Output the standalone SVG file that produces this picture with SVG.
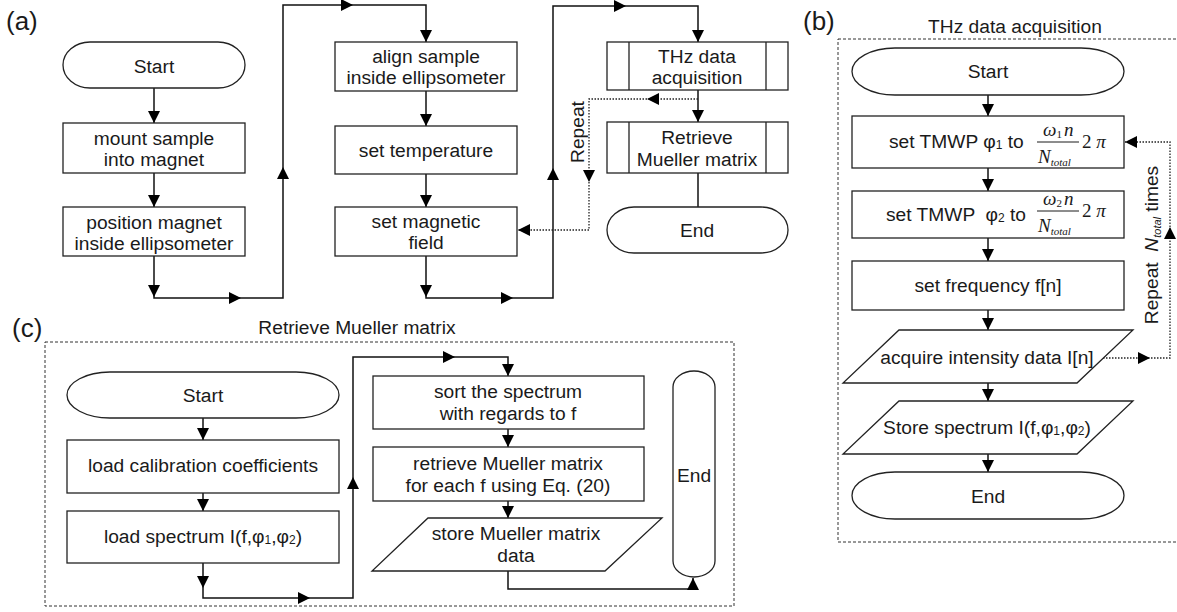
<svg xmlns="http://www.w3.org/2000/svg" xmlns:xlink="http://www.w3.org/1999/xlink" width="1177" height="612" viewBox="0 0 1177 612">
<style>
.nd{fill:#fff;stroke:#222;stroke-width:1.3}
.t{font-family:"Liberation Sans",Arial,sans-serif;font-size:19.2px;fill:#1a1a1a;text-anchor:middle}
.ts{font-family:"Liberation Sans",Arial,sans-serif;font-size:19.2px;fill:#1a1a1a;text-anchor:start}
.lab{font-family:"Liberation Sans",Arial,sans-serif;font-size:26px;fill:#1a1a1a}
.m{font-family:"Liberation Serif","Times New Roman",serif;font-style:italic;font-size:19px;fill:#1a1a1a}
.ln{fill:none;stroke:#111;stroke-width:1.5}
.dot{fill:none;stroke:#222;stroke-width:1.3;stroke-dasharray:1.5 1.5}
.frm{fill:none;stroke:#333;stroke-width:1;stroke-dasharray:3 2}
.ah{fill:#000}
</style>
<defs>
<path id="ah" d="M0,0 L-12,-6 L-12,6 Z"/>
</defs>
<rect width="1177" height="612" fill="#fff"/>

<!-- panel labels and frames -->
<g id="labels">
<text class="lab" x="6" y="30">(a)</text>
<text class="lab" x="803" y="30">(b)</text>
<text class="lab" x="12" y="337">(c)</text>
<text class="t" x="1015" y="33">THz data acquisition</text>
<text class="t" x="357" y="334">Retrieve Mueller matrix</text>
<rect class="frm" x="838" y="39" width="400" height="503"/>
<rect class="frm" x="45" y="342" width="689" height="264"/>
</g>

<!-- connectors -->
<g id="connectors">
<path class="ln" d="M154,88 V123"/>
<path class="ln" d="M154,173 V207"/>
<path class="ln" d="M154,256 V298 H283 V5 H426 V42"/>
<path class="ln" d="M426,91 V126"/>
<path class="ln" d="M426,174 V207"/>
<path class="ln" d="M426,256 V298 H553 V6 H698 V42"/>
<path class="ln" d="M698,90 V122"/>
<path class="ln" d="M698,173 V207"/>
<path class="dot" d="M698,99 H589 V230 H518"/>
<g class="ah">
<use xlink:href="#ah" transform="translate(154,123) rotate(90)"/>
<use xlink:href="#ah" transform="translate(154,207) rotate(90)"/>
<use xlink:href="#ah" transform="translate(154,297) rotate(90)"/>
<use xlink:href="#ah" transform="translate(241,298)"/>
<use xlink:href="#ah" transform="translate(283,167) rotate(-90)"/>
<use xlink:href="#ah" transform="translate(353,5)"/>
<use xlink:href="#ah" transform="translate(426,42) rotate(90)"/>
<use xlink:href="#ah" transform="translate(426,126) rotate(90)"/>
<use xlink:href="#ah" transform="translate(426,207) rotate(90)"/>
<use xlink:href="#ah" transform="translate(426,297) rotate(90)"/>
<use xlink:href="#ah" transform="translate(513,298)"/>
<use xlink:href="#ah" transform="translate(553,168) rotate(-90)"/>
<use xlink:href="#ah" transform="translate(626,6)"/>
<use xlink:href="#ah" transform="translate(698,42) rotate(90)"/>
<use xlink:href="#ah" transform="translate(698,122) rotate(90)"/>
<use xlink:href="#ah" transform="translate(647,99) rotate(180)"/>
<use xlink:href="#ah" transform="translate(589,182) rotate(90)"/>
<use xlink:href="#ah" transform="translate(518,230) rotate(180)"/>
</g>
<text class="t" transform="translate(584,132) rotate(-90)">Repeat</text>

<path class="ln" d="M988,95 V116"/>
<path class="ln" d="M988,168 V191"/>
<path class="ln" d="M988,238 V261"/>
<path class="ln" d="M988,310 V330"/>
<path class="ln" d="M988,383 V401"/>
<path class="ln" d="M988,454 V472"/>
<path class="dot" d="M1103,358 H1170 V142 H1125"/>
<g class="ah">
<use xlink:href="#ah" transform="translate(988,116) rotate(90)"/>
<use xlink:href="#ah" transform="translate(988,191) rotate(90)"/>
<use xlink:href="#ah" transform="translate(988,261) rotate(90)"/>
<use xlink:href="#ah" transform="translate(988,330) rotate(90)"/>
<use xlink:href="#ah" transform="translate(988,401) rotate(90)"/>
<use xlink:href="#ah" transform="translate(988,472) rotate(90)"/>
<use xlink:href="#ah" transform="translate(1150,358)"/>
<use xlink:href="#ah" transform="translate(1170,227) rotate(-90)"/>
<use xlink:href="#ah" transform="translate(1125,142) rotate(180)"/>
</g>
<text class="t" xml:space="preserve" transform="translate(1158,245) rotate(-90)">Repeat  <tspan font-style="italic">N</tspan><tspan font-style="italic" font-size="11" dy="3">total</tspan><tspan dy="-3"> times</tspan></text>

<path class="ln" d="M203,418 V440"/>
<path class="ln" d="M203,493 V511"/>
<path class="ln" d="M203,563 V598 H353 V357 H508 V376"/>
<path class="ln" d="M508,429 V447"/>
<path class="ln" d="M508,501 V518"/>
<path class="ln" d="M508,571 V589 H693 V578"/>
<g class="ah">
<use xlink:href="#ah" transform="translate(203,440) rotate(90)"/>
<use xlink:href="#ah" transform="translate(203,511) rotate(90)"/>
<use xlink:href="#ah" transform="translate(203,588) rotate(90)"/>
<use xlink:href="#ah" transform="translate(310,598)"/>
<use xlink:href="#ah" transform="translate(353,477) rotate(-90)"/>
<use xlink:href="#ah" transform="translate(455,357)"/>
<use xlink:href="#ah" transform="translate(508,376) rotate(90)"/>
<use xlink:href="#ah" transform="translate(508,447) rotate(90)"/>
<use xlink:href="#ah" transform="translate(508,518) rotate(90)"/>
<use xlink:href="#ah" transform="translate(693,578) rotate(-90)"/>
</g>
</g>

<!-- (a) nodes -->
<g id="a-start"><rect class="nd" x="63" y="42" width="182" height="46" rx="27" ry="23"/><text class="t" x="154" y="73">Start</text></g>
<g id="a-mount"><rect class="nd" x="63" y="123" width="182" height="50"/><text class="t" x="154" y="145">mount sample</text><text class="t" x="154" y="166">into magnet</text></g>
<g id="a-position"><rect class="nd" x="63" y="207" width="182" height="49"/><text class="t" x="154" y="229">position magnet</text><text class="t" x="154" y="250">inside ellipsometer</text></g>
<g id="a-align"><rect class="nd" x="335" y="42" width="182" height="49"/><text class="t" x="426" y="63">align sample</text><text class="t" x="426" y="84">inside ellipsometer</text></g>
<g id="a-temp"><rect class="nd" x="335" y="126" width="182" height="48"/><text class="t" x="426" y="157">set temperature</text></g>
<g id="a-field"><rect class="nd" x="335" y="207" width="182" height="49"/><text class="t" x="426" y="228">set magnetic</text><text class="t" x="426" y="249">field</text></g>
<g id="a-thz"><rect class="nd" x="607" y="42" width="181" height="48"/><path class="nd" d="M629,42 V90 M766,42 V90"/><text class="t" x="697" y="63">THz data</text><text class="t" x="697" y="84">acquisition</text></g>
<g id="a-retrieve"><rect class="nd" x="607" y="122" width="181" height="51"/><path class="nd" d="M629,122 V173 M766,122 V173"/><text class="t" x="697" y="144">Retrieve</text><text class="t" x="697" y="166">Mueller matrix</text></g>
<g id="a-end"><rect class="nd" x="607" y="207" width="181" height="46" rx="27" ry="23"/><text class="t" x="697" y="237">End</text></g>

<!-- (b) nodes -->
<g id="b-start"><rect class="nd" x="852" y="48" width="272" height="47" rx="43" ry="23.5"/><text class="t" x="988" y="78">Start</text></g>
<g id="b-phi1"><rect class="nd" x="852" y="116" width="272" height="52"/>
<text class="ts" x="889" y="148">set TMWP φ<tspan font-size="12" dy="1">1</tspan><tspan dy="-1"> to</tspan></text>
<text class="m" x="1043" y="136">ω<tspan font-style="normal" font-size="11" dy="2">1</tspan><tspan dy="-2" dx="2">n</tspan></text>
<path d="M1037,142 H1079" stroke="#1a1a1a" stroke-width="1"/>
<text class="m" x="1038" y="163">N<tspan font-size="11" dy="3">total</tspan></text>
<text class="m" x="1082" y="148"><tspan font-style="normal">2</tspan> π</text>
</g>
<g id="b-phi2"><rect class="nd" x="852" y="191" width="272" height="47"/>
<text class="ts" xml:space="preserve" x="886" y="221">set TMWP  φ<tspan font-size="12" dy="1">2</tspan><tspan dy="-1"> to</tspan></text>
<text class="m" x="1043" y="205">ω<tspan font-style="normal" font-size="11" dy="2">2</tspan><tspan dy="-2" dx="2">n</tspan></text>
<path d="M1037,211 H1079" stroke="#1a1a1a" stroke-width="1"/>
<text class="m" x="1038" y="232">N<tspan font-size="11" dy="3">total</tspan></text>
<text class="m" x="1082" y="217"><tspan font-style="normal">2</tspan> π</text>
</g>
<g id="b-freq"><rect class="nd" x="852" y="261" width="272" height="49"/><text class="t" x="988" y="292">set frequency f[n]</text></g>
<g id="b-acquire"><polygon class="nd" points="899,330 1133,330 1077,383 843,383"/><text class="t" x="987" y="364">acquire intensity data I[n]</text></g>
<g id="b-store"><polygon class="nd" points="899,401 1133,401 1077,454 843,454"/><text class="t" x="987" y="434">Store spectrum I(f,φ<tspan font-size="12" dy="1">1</tspan><tspan dy="-1">,φ</tspan><tspan font-size="12" dy="1">2</tspan><tspan dy="-1">)</tspan></text></g>
<g id="b-end"><rect class="nd" x="852" y="472" width="272" height="47" rx="43" ry="23.5"/><text class="t" x="988" y="503">End</text></g>

<!-- (c) nodes -->
<g id="c-start"><rect class="nd" x="67" y="372" width="272" height="46" rx="43" ry="23"/><text class="t" x="203" y="402">Start</text></g>
<g id="c-calib"><rect class="nd" x="67" y="440" width="272" height="53"/><text class="t" x="203" y="472">load calibration coefficients</text></g>
<g id="c-spectrum"><rect class="nd" x="67" y="511" width="272" height="52"/><text class="t" x="203" y="543">load spectrum I(f,φ<tspan font-size="12" dy="1">1</tspan><tspan dy="-1">,φ</tspan><tspan font-size="12" dy="1">2</tspan><tspan dy="-1">)</tspan></text></g>
<g id="c-sort"><rect class="nd" x="373" y="376" width="271" height="53"/><text class="t" x="508" y="398">sort the spectrum</text><text class="t" x="508" y="420">with regards to f</text></g>
<g id="c-retrieve"><rect class="nd" x="373" y="447" width="271" height="54"/><text class="t" x="508" y="470">retrieve Mueller matrix</text><text class="t" x="508" y="492">for each f using Eq. (20)</text></g>
<g id="c-store"><polygon class="nd" points="428,518 662,518 605,571 372,571"/><text class="t" x="516" y="540">store Mueller matrix</text><text class="t" x="516" y="562">data</text></g>
<g id="c-end"><rect class="nd" x="673" y="371" width="42" height="206" rx="21" ry="16"/><text class="t" x="694" y="482">End</text></g>
</svg>
